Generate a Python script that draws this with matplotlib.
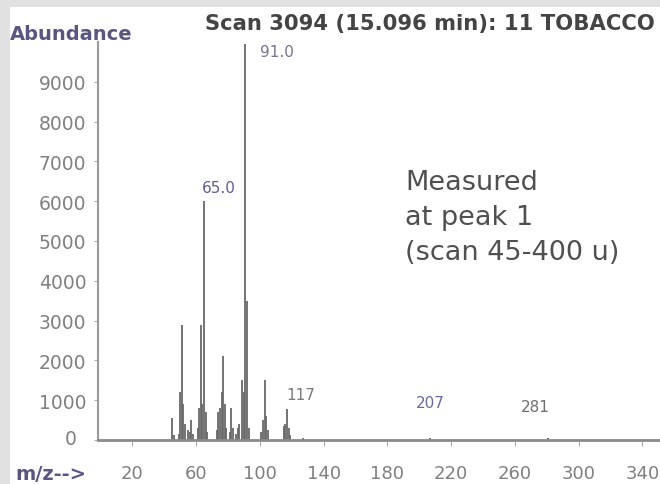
import matplotlib
matplotlib.use("Agg")
import matplotlib.pyplot as plt
from matplotlib.patches import Rectangle
from matplotlib.transforms import ScaledTranslation

# Mass spectrum (m/z, abundance)
mz = [45, 46, 49, 50, 51, 52, 53, 55, 56, 57, 58,
      61, 62, 63, 64, 65, 66, 67,
      73, 74, 75, 76, 77, 78, 79, 81, 82, 83, 85, 86, 87,
      89, 90, 91, 92, 93,
      101, 102, 103, 104, 105,
      115, 116, 117, 118, 119, 127,
      207, 281]
abundance = [550, 120, 150, 1200, 2900, 900, 400, 250, 200, 500, 150,
             300, 800, 2900, 900, 6000, 700, 200,
             250, 700, 800, 1200, 2100, 900, 300, 200, 800, 300, 150, 300, 400,
             1500, 1200, 9950, 3500, 300,
             200, 500, 1500, 600, 250,
             350, 400, 780, 300, 120, 60,
             60, 50]

# Labelled peaks and their label text
label_mz = [91, 65, 117, 207, 281]
label_text = ["91.0", "65.0", "117", "207", "281"]

y_ticks = [0, 1000, 2000, 3000, 4000, 5000, 6000, 7000, 8000, 9000]
x_ticks = [20, 60, 100, 140, 180, 220, 260, 300, 340]

title = "Scan 3094 (15.096 min): 11 TOBACCO"
note = "Measured\nat peak 1\n(scan 45-400 u)"

W, H = 660, 485
fig = plt.figure(figsize=(W / 100, H / 100), dpi=100, facecolor="#e1e1e1")
fig.patches.append(Rectangle((10 / W, 0), 650 / W, 477 / H,
                             transform=fig.transFigure, facecolor="white",
                             edgecolor="none", zorder=-10))

ax = fig.add_axes([98 / W, 44 / H, (W - 98) / W, (441 - 43) / H])
ax.set_zorder(2)
ax.set_facecolor("none")
ax.set_xlim(-1.5, 351)
ax.set_ylim(0, 10000)

ax.vlines(mz, 0, abundance, colors="#686868", linewidth=1.3)

for s in ("top", "right"):
    ax.spines[s].set_visible(False)
ax.spines["left"].set_color("#9a9a9a")
ax.spines["left"].set_linewidth(1.5)
ax.spines["bottom"].set_color("#8a8a8a")
ax.spines["bottom"].set_linewidth(2)

ax.set_yticks(y_ticks)
ax.set_yticklabels([str(v) for v in y_ticks])
ax.set_xticks(x_ticks)
ax.set_xticklabels([str(v) for v in x_ticks])
ax.tick_params(axis="y", length=3, color="#aaaaaa", pad=5.5,
               labelsize=13.5, labelcolor="#808080")
ax.tick_params(axis="x", length=4, color="#aaaaaa", pad=13,
               labelsize=13, labelcolor="#808080")

# the zero label sits a little further left than the others
fig.canvas.draw()
zero_lab = ax.get_yticklabels()[0]
zero_lab.set_transform(zero_lab.get_transform()
                       + ScaledTranslation(-10 / 100, 3 / 100,
                                           fig.dpi_scale_trans))

# Peak labels
lab_pos = {91: (20, 9750), 65: (9, 6350),
           117: (8.5, 1150), 207: (0, 950), 281: (-8, 830)}
lab_col = {91: "#75758f", 65: "#5f5f95", 117: "#7a7a7a",
           207: "#6a6aa0", 281: "#6e6e6e"}
for m, t in zip(label_mz, label_text):
    dx, y = lab_pos[m]
    ax.text(m + dx, y, t, ha="center", va="center", fontsize=11,
            color=lab_col[m])

fig.text(10 / W, 1 - 35 / H, "Abundance", ha="left", va="center",
         fontsize=14, fontweight="bold", color="#5a5680")
fig.text(430 / W, 1 - 24 / H, title, ha="center", va="center",
         fontsize=15.2, fontweight="bold", color="#444444")
fig.text(15 / W, 1 - 475 / H, "m/z-->", ha="left", va="center",
         fontsize=14, fontweight="bold", color="#5a5680")
fig.text(405 / W, 1 - 218 / H, note, ha="left", va="center",
         fontsize=19.5, color="#505050", linespacing=1.43)

fig.savefig("out.png", dpi=100, facecolor=fig.get_facecolor())
